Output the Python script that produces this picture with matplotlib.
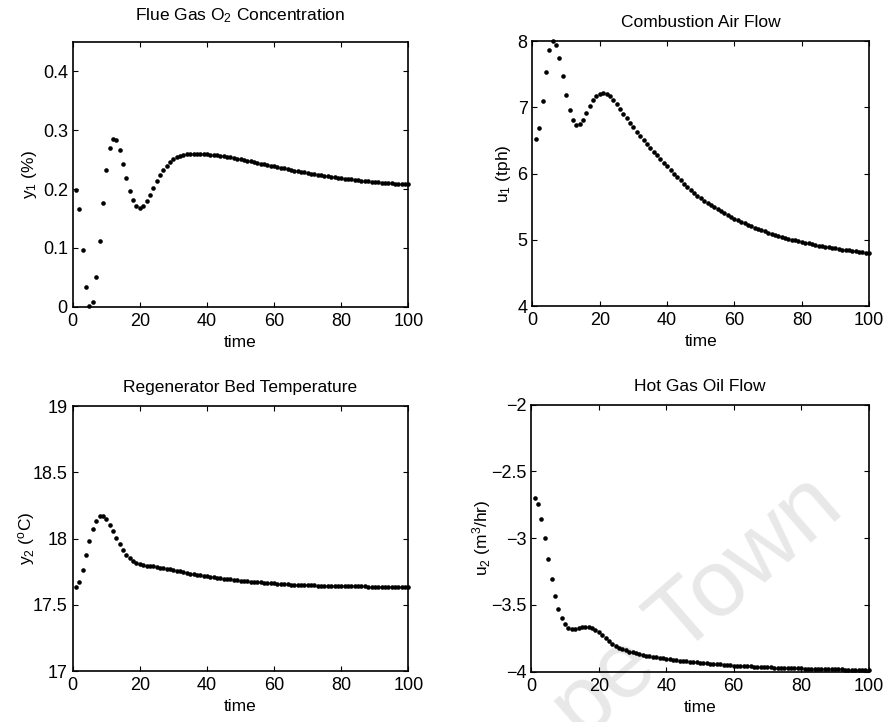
import numpy as np
import matplotlib
matplotlib.use("Agg")
import matplotlib.pyplot as plt

plt.rcParams["font.family"] = ["Liberation Sans", "DejaVu Sans"]
plt.rcParams["mathtext.fontset"] = "custom"
plt.rcParams["mathtext.rm"] = "Liberation Sans"
plt.rcParams["mathtext.it"] = "Liberation Sans:italic"
plt.rcParams["mathtext.default"] = "regular"

# time axis: one sample per time unit
time = np.arange(1, 101)

# flue gas O2 concentration y1 (%)
y1 = [0.199, 0.166, 0.097, 0.033, 0.001, 0.008, 0.050, 0.111, 0.177, 0.232,
      0.269, 0.285, 0.283, 0.267, 0.243, 0.219, 0.197, 0.181, 0.171, 0.168,
      0.172, 0.180, 0.190, 0.201, 0.213, 0.224, 0.233, 0.240, 0.246, 0.251,
      0.254, 0.257, 0.258, 0.259, 0.259, 0.2595, 0.2595, 0.2595, 0.259, 0.259,
      0.2585, 0.258, 0.2575, 0.257, 0.2562, 0.2552, 0.2540, 0.2530, 0.2518, 0.2506,
      0.2494, 0.2482, 0.2470, 0.2458, 0.2446, 0.2434, 0.2422, 0.2410, 0.2398, 0.2386,
      0.2374, 0.2362, 0.2350, 0.2338, 0.2326, 0.2315, 0.2304, 0.2294, 0.2284, 0.2274,
      0.2264, 0.2254, 0.2245, 0.2236, 0.2227, 0.2218, 0.2210, 0.2202, 0.2194, 0.2186,
      0.2178, 0.2170, 0.2163, 0.2156, 0.2150, 0.2144, 0.2138, 0.2132, 0.2126, 0.2121,
      0.2116, 0.2111, 0.2106, 0.2102, 0.2098, 0.2094, 0.2090, 0.2087, 0.2084, 0.2081]

# combustion air flow u1 (tph)
u1 = [6.519, 6.695, 7.097, 7.534, 7.861, 8.000, 7.947, 7.745, 7.474, 7.193,
      6.961, 6.806, 6.741, 6.750, 6.816, 6.911, 7.021, 7.107, 7.172, 7.208,
      7.223, 7.208, 7.172, 7.112, 7.047, 6.976, 6.900, 6.836, 6.771, 6.700,
      6.635, 6.575, 6.508, 6.448, 6.388, 6.333, 6.278, 6.222, 6.167, 6.112,
      6.056, 6.001, 5.950, 5.900, 5.851, 5.799, 5.754, 5.704, 5.664, 5.625,
      5.590, 5.556, 5.523, 5.491, 5.460, 5.430, 5.401, 5.373, 5.346, 5.320,
      5.295, 5.271, 5.248, 5.226, 5.205, 5.185, 5.165, 5.146, 5.128, 5.110,
      5.093, 5.077, 5.061, 5.046, 5.032, 5.018, 5.005, 4.992, 4.980, 4.968,
      4.957, 4.946, 4.935, 4.925, 4.915, 4.905, 4.896, 4.887, 4.878, 4.870,
      4.862, 4.854, 4.847, 4.840, 4.833, 4.826, 4.819, 4.812, 4.806, 4.800]

# regenerator bed temperature y2 (oC)
y2 = [17.632, 17.669, 17.762, 17.873, 17.983, 18.074, 18.134, 18.170, 18.170, 18.145,
      18.104, 18.057, 18.006, 17.958, 17.916, 17.878, 17.850, 17.832, 17.817, 17.808,
      17.800, 17.796, 17.792, 17.789, 17.785, 17.781, 17.777, 17.773, 17.769, 17.764,
      17.758, 17.752, 17.746, 17.741, 17.736, 17.731, 17.726, 17.722, 17.718, 17.714,
      17.710, 17.706, 17.703, 17.700, 17.697, 17.694, 17.691, 17.688, 17.685, 17.682,
      17.679, 17.677, 17.675, 17.673, 17.671, 17.669, 17.667, 17.665, 17.663, 17.661,
      17.659, 17.658, 17.656, 17.655, 17.653, 17.652, 17.651, 17.650, 17.649, 17.648,
      17.647, 17.646, 17.645, 17.645, 17.644, 17.644, 17.643, 17.643, 17.642, 17.642,
      17.641, 17.641, 17.640, 17.640, 17.639, 17.639, 17.639, 17.638, 17.638, 17.637,
      17.637, 17.637, 17.636, 17.636, 17.636, 17.635, 17.635, 17.635, 17.634, 17.634]

# hot gas oil flow u2 (m3/hr)
u2 = [-2.703, -2.746, -2.856, -3.000, -3.159, -3.307, -3.434, -3.533, -3.601, -3.645,
      -3.671, -3.681, -3.678, -3.671, -3.666, -3.663, -3.666, -3.673, -3.688, -3.705,
      -3.728, -3.750, -3.773, -3.793, -3.810, -3.822, -3.832, -3.841, -3.849, -3.856,
      -3.862, -3.868, -3.874, -3.879, -3.884, -3.888, -3.893, -3.897, -3.901, -3.904,
      -3.908, -3.911, -3.914, -3.917, -3.920, -3.923, -3.926, -3.928, -3.931, -3.933,
      -3.936, -3.938, -3.940, -3.942, -3.944, -3.946, -3.948, -3.950, -3.952, -3.954,
      -3.955, -3.957, -3.958, -3.960, -3.961, -3.962, -3.964, -3.965, -3.966, -3.967,
      -3.968, -3.969, -3.970, -3.971, -3.972, -3.973, -3.974, -3.975, -3.975, -3.976,
      -3.977, -3.978, -3.978, -3.979, -3.980, -3.980, -3.981, -3.981, -3.982, -3.982,
      -3.983, -3.983, -3.984, -3.984, -3.985, -3.985, -3.985, -3.986, -3.986, -3.987]

x_ticks = [0, 20, 40, 60, 80, 100]
y1_ticks = [0, 0.1, 0.2, 0.3, 0.4]
y1_labels = ["0", "0.1", "0.2", "0.3", "0.4"]
u1_ticks = [4, 5, 6, 7, 8]
u1_labels = ["4", "5", "6", "7", "8"]
y2_ticks = [17, 17.5, 18, 18.5, 19]
y2_labels = ["17", "17.5", "18", "18.5", "19"]
u2_ticks = [-4, -3.5, -3, -2.5, -2]
u2_labels = ["\u22124", "\u22123.5", "\u22123", "\u22122.5", "\u22122"]

titles = ["Flue Gas O$_2$ Concentration", "Combustion Air Flow",
          "Regenerator Bed Temperature", "Hot Gas Oil Flow"]
ylabels = ["y$_1$ (%)", "u$_1$ (tph)", "y$_2$ ($^o$C)", "u$_2$ (m$^3$/hr)"]

fig = plt.figure(figsize=(8.86, 7.22), dpi=100)

boxes = [[0.082, 0.575, 0.379, 0.367],
         [0.601, 0.576, 0.380, 0.367],
         [0.082, 0.0706, 0.379, 0.367],
         [0.5997, 0.0697, 0.3807, 0.370]]
series = [y1, u1, y2, u2]
limits = [(0, 0.45), (4, 8), (17, 19), (-4, -2)]
yticks = [(y1_ticks, y1_labels), (u1_ticks, u1_labels),
          (y2_ticks, y2_labels), (u2_ticks, u2_labels)]
title_y = [1.082, 1.055, 1.054, 1.052]
ylab_x = [-0.100, -0.057, -0.106, -0.113]

for ii in range(4):
    ax = fig.add_axes(boxes[ii])
    ax.patch.set_alpha(0)
    ax.plot(time, series[ii], "o", color="black", markersize=3.3,
            markeredgewidth=0, clip_on=False)
    ax.set_xlim(0, 100)
    ax.set_ylim(*limits[ii])
    ax.set_xticks(x_ticks)
    ax.set_yticks(yticks[ii][0])
    ax.set_yticklabels(yticks[ii][1])
    ax.tick_params(direction="in", top=True, right=True, length=3.5,
                   width=0.8, labelsize=13, pad=3.5)
    ax.tick_params(axis="x", pad=4.5)
    for sp in ax.spines.values():
        sp.set_linewidth(1.2)
    ax.text(0.5, title_y[ii], titles[ii], transform=ax.transAxes,
            ha="center", va="baseline", fontsize=12.5)
    ax.set_xlabel("time", fontsize=12.5)
    ax.xaxis.set_label_coords(0.5, -0.105)
    ax.set_ylabel(ylabels[ii], fontsize=12.5)
    ax.yaxis.set_label_coords(ylab_x[ii], 0.5)

# faint scanning watermark, only its tail shows on the page
fig.text(0.955, 0.29, "pe Town", rotation=41, ha="right",
         va="baseline", rotation_mode="anchor", fontsize=68,
         color="#e8e8e8", zorder=-1)

plt.savefig("out.png", dpi=100)
plt.close()
